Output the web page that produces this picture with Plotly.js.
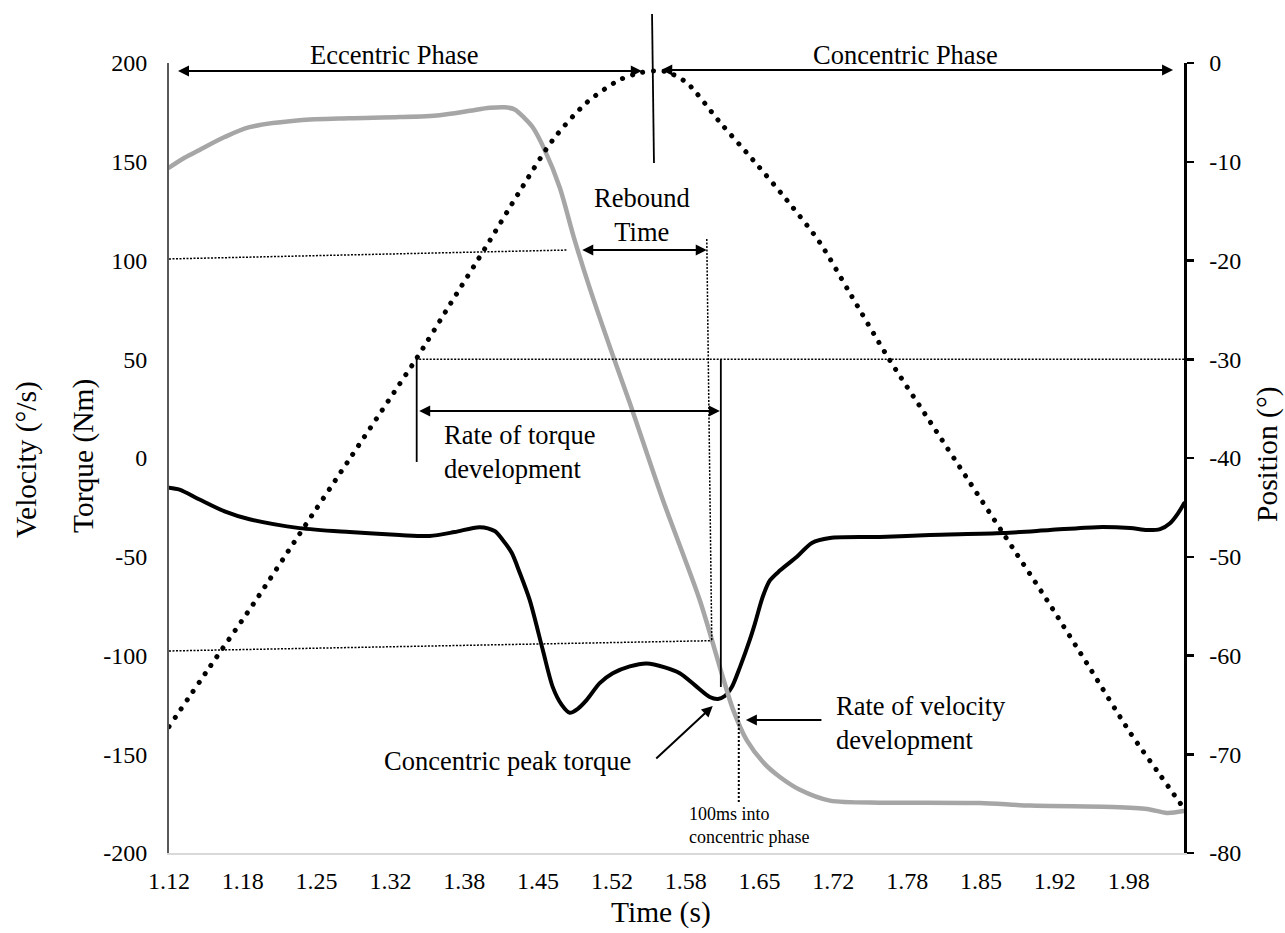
<!DOCTYPE html>
<html>
<head>
<meta charset="utf-8">
<script src="https://cdn.plot.ly/plotly-3.0.1.min.js"></script>
<style>
  html, body { margin: 0; padding: 0; background: #ffffff; }
  #chart { width: 1285px; height: 933px; }
  .js-line { stroke-linecap: round; }
</style>
</head>
<body>
<div id="chart"></div>
<script>
// ---- Data ----
// Velocity (grey line, left axis, deg/s)
const velocityTime = [1.1200, 1.1340, 1.1476, 1.1702, 1.1927, 1.2379, 1.2831, 1.3283, 1.3644, 1.3916,
  1.4096, 1.4232, 1.4322, 1.4413, 1.4485, 1.4593, 1.4729, 1.4855, 1.5000, 1.5208,
  1.5361, 1.5659, 1.5994, 1.6202, 1.6292, 1.6419, 1.6582, 1.6717, 1.6898, 1.7169,
  1.7620, 1.7919, 1.8524, 1.8976, 1.9726, 2.0033, 2.0214, 2.0367];
const velocityValues = [147, 152, 156, 162.5, 167.5, 171, 172, 172.6, 173.6, 175.8,
  177.3, 177.6, 176.5, 172, 167.5, 156, 137, 112, 86, 52,
  28, -21, -72, -111, -127, -143, -155, -161.5, -168, -173.5,
  -174.5, -174.5, -174.7, -176, -176.7, -177.7, -179.7, -178.7];

// Torque (black line, left axis, Nm)
const torqueTime = [1.1200, 1.1295, 1.1476, 1.1702, 1.1927, 1.2379, 1.2831, 1.3283, 1.3554, 1.3780,
  1.4006, 1.4141, 1.4214, 1.4295, 1.4367, 1.4458, 1.4575, 1.4666, 1.4747, 1.4819,
  1.4892, 1.4973, 1.5090, 1.5208, 1.5361, 1.5515, 1.5678, 1.5813, 1.5949, 1.6084,
  1.6157, 1.6220, 1.6283, 1.6356, 1.6446, 1.6491, 1.6564, 1.6627, 1.6717, 1.6871,
  1.7006, 1.7169, 1.7620, 1.8072, 1.8732, 1.9157, 1.9582, 1.9880, 2.0033, 2.0151,
  2.0241, 2.0313, 2.0367];
const torqueValues = [-15, -16, -21, -27, -31, -35.5, -37.5, -39, -39.5, -37.5,
  -35, -37, -41.5, -48, -58, -72, -97, -116, -125, -129,
  -127, -122.5, -114, -109, -105.5, -104, -106, -109, -115, -121,
  -122, -120.5, -116, -106, -92, -84, -70, -62, -57, -50,
  -43, -40.5, -40, -39, -38, -36.5, -35, -35.5, -36.5, -36,
  -33, -28, -23];

// Position (dotted line, right axis, deg)
const positionTime = [1.1200, 1.1566, 1.1973, 1.2379, 1.2831, 1.3283, 1.3437, 1.3735, 1.4069, 1.4367,
  1.4666, 1.4973, 1.5271, 1.5452, 1.5587, 1.5696, 1.5876, 1.6175, 1.6473, 1.6781,
  1.7079, 1.7349, 1.7693, 1.8072, 1.8434, 1.8732, 1.9130, 1.9518, 1.9880, 2.0151,
  2.0367];
const positionValues = [-67.2, -61.2, -54.6, -47.7, -40.1, -32.5, -29.9, -24.5, -18.5, -13,
  -7.8, -4, -1.7, -1.0, -0.8, -0.9, -2.0, -6.0, -9.8, -13.9,
  -18.2, -23.3, -29.8, -36.3, -42.5, -47.6, -54.4, -61.3, -67.8, -72.1,
  -75.5];

// Axis ticks
const timeTickVals = [1.12, 1.1867, 1.2533, 1.32, 1.3867, 1.4533, 1.52, 1.5867, 1.6533, 1.72, 1.7867, 1.8533, 1.92, 1.9867];
const timeTickText = ['1.12', '1.18', '1.25', '1.32', '1.38', '1.45', '1.52', '1.58', '1.65', '1.72', '1.78', '1.85', '1.92', '1.98'];
const leftTickVals = [-200, -150, -100, -50, 0, 50, 100, 150, 200];
const leftTickText = ['-200', '-150', '-100', '-50', '0', '50', '100', '150', '200'];
const rightTickVals = [-80, -70, -60, -50, -40, -30, -20, -10, 0];
const rightTickText = ['-80', '-70', '-60', '-50', '-40', '-30', '-20', '-10', '0'];

// Event times (s)
const reboundEnd = 1.6057;
const concentric100 = 1.6346;

// ---- Chart ----
const FONT = 'Liberation Serif, Times New Roman, serif';

const traces = [
  {
    x: torqueTime, y: torqueValues, type: 'scatter', mode: 'lines', name: 'Torque',
    line: { color: '#000000', width: 4, shape: 'spline', smoothing: 0.8 }, yaxis: 'y'
  },
  {
    x: velocityTime, y: velocityValues, type: 'scatter', mode: 'lines', name: 'Velocity',
    line: { color: '#a6a6a6', width: 4.5, shape: 'spline', smoothing: 0.8 }, yaxis: 'y'
  },
  {
    x: positionTime, y: positionValues, type: 'scatter', mode: 'lines', name: 'Position',
    line: { color: '#000000', width: 5, dash: '0.1px,10.5px', shape: 'spline', smoothing: 0.8 }, yaxis: 'y2'
  }
];

const thinDot = { color: '#000000', width: 1.5, dash: '2px,1.5px' };
const solid = { color: '#000000', width: 1.8 };

const shapes = [
  { type: 'line', xref: 'x', yref: 'y', x0: 1.12, y0: 100.8, x1: 1.4801, y1: 105.3, line: thinDot },
  { type: 'line', xref: 'x', yref: 'y', x0: 1.12, y0: -97.7, x1: 1.6102, y1: -92.5, line: thinDot },
  { type: 'line', xref: 'x', yref: 'y', x0: reboundEnd, y0: 110.9, x1: 1.6102, y1: -92.5, line: thinDot },
  { type: 'line', xref: 'x', yref: 'y', x0: 1.3428, y0: 50, x1: 2.0367, y1: 50, line: thinDot },
  { type: 'line', xref: 'x', yref: 'y', x0: 1.3437, y0: 50, x1: 1.3437, y1: -2, line: solid },
  { type: 'line', xref: 'x', yref: 'y', x0: 1.6184, y0: 50, x1: 1.6184, y1: -116, line: solid },
  { type: 'line', xref: 'x', yref: 'y', x0: concentric100, y0: -124.6, x1: concentric100, y1: -174.2,
    line: { color: '#000000', width: 2, dash: '2px,2px' } },
  { type: 'line', xref: 'paper', yref: 'paper', x0: 0.4759, y0: 1.0620, x1: 0.4778, y1: 0.8734, line: solid }
];

function dblArrow(x0, x1, y) {
  return { xref: 'x', yref: 'y', axref: 'x', ayref: 'y', x: x1, y: y, ax: x0, ay: y, text: '',
    showarrow: true, arrowside: 'end+start', arrowhead: 2, startarrowhead: 2,
    arrowsize: 1.1, startarrowsize: 1.1, arrowwidth: 2, arrowcolor: '#000000', standoff: 0, startstandoff: 0 };
}
function oneArrow(xt, yt, xh, yh) {
  return { xref: 'x', yref: 'y', axref: 'x', ayref: 'y', x: xh, y: yh, ax: xt, ay: yt, text: '',
    showarrow: true, arrowhead: 2, arrowsize: 1.1, arrowwidth: 2, arrowcolor: '#000000', standoff: 0 };
}
function label(text, x, y, opts) {
  return Object.assign({ xref: 'x', yref: 'y', x: x, y: y, text: text, showarrow: false,
    font: { family: FONT, size: 26.5, color: '#000000' }, xanchor: 'center', yanchor: 'middle', align: 'center' }, opts || {});
}

const annotations = [
  dblArrow(1.1268, 1.5470, 196),
  dblArrow(1.5632, 2.0268, 196.5),
  dblArrow(1.4919, reboundEnd, 105.3),
  dblArrow(1.3446, 1.6175, 23.8),
  oneArrow(1.5587, -152.9, 1.6111, -125.6),
  oneArrow(1.7106, -132.7, 1.6410, -132.7),
  label('Eccentric Phase', 1.3237, 1.0101, { yref: 'paper' }),
  label('Concentric Phase', 1.7851, 1.0101, { yref: 'paper' }),
  label('Rebound<br>Time', 1.5470, 123.0),
  label('Rate of torque<br>development', 1.3662, 3.0, { xanchor: 'left', align: 'left' }),
  label('Concentric peak torque', 1.4255, -153.4),
  label('Rate of velocity<br>development', 1.7205, -134.2, { xanchor: 'left', align: 'left' }),
  label('100ms into<br>concentric phase', 1.5876, -186.3,
    { xanchor: 'left', align: 'left', font: { family: FONT, size: 18, color: '#000000' } }),
  // axis titles
  label('Velocity (°/s)', -0.1399, 0.4975, { xref: 'paper', yref: 'paper', textangle: -90,
    font: { family: FONT, size: 29.5, color: '#000000' } }),
  label('Torque (Nm)', -0.0847, 0.5025, { xref: 'paper', yref: 'paper', textangle: -90,
    font: { family: FONT, size: 29.5, color: '#000000' } }),
  label('Position (°)', 1.0828, 0.5051, { xref: 'paper', yref: 'paper', textangle: -90,
    font: { family: FONT, size: 29.5, color: '#000000' } }),
  label('Time (s)', 0.4847, -0.0755, { xref: 'paper', yref: 'paper',
    font: { family: FONT, size: 29.5, color: '#000000' } })
];

const tickFont = { family: FONT, size: 24, color: '#000000' };

const layout = {
  width: 1285, height: 933,
  margin: { l: 169, r: 101, t: 63, b: 80, pad: 0 },
  paper_bgcolor: '#ffffff', plot_bgcolor: '#ffffff',
  showlegend: false,
  font: { family: FONT, color: '#000000' },
  xaxis: {
    range: [1.12, 2.0367], tickmode: 'array', tickvals: timeTickVals, ticktext: timeTickText,
    showline: true, linecolor: '#d9d9d9', linewidth: 1.5, ticks: '', showgrid: false, zeroline: false,
    tickfont: tickFont, ticklabelstandoff: 6
  },
  yaxis: {
    range: [-200, 200], tickmode: 'array', tickvals: leftTickVals, ticktext: leftTickText,
    showline: true, linecolor: '#595959', linewidth: 2, ticks: '', showgrid: false, zeroline: false,
    tickfont: tickFont, ticklabelstandoff: 15
  },
  yaxis2: {
    range: [-80, 0], overlaying: 'y', side: 'right', anchor: 'x',
    tickmode: 'array', tickvals: rightTickVals, ticktext: rightTickText,
    showline: true, linecolor: '#000000', linewidth: 2.5,
    ticks: 'outside', ticklen: 7, tickwidth: 2.5, tickcolor: '#000000',
    showgrid: false, zeroline: false, tickfont: tickFont, ticklabelstandoff: 11
  },
  shapes: shapes,
  annotations: annotations
};

Plotly.newPlot('chart', traces, layout, { displayModeBar: false, staticPlot: true });
</script>
</body>
</html>
